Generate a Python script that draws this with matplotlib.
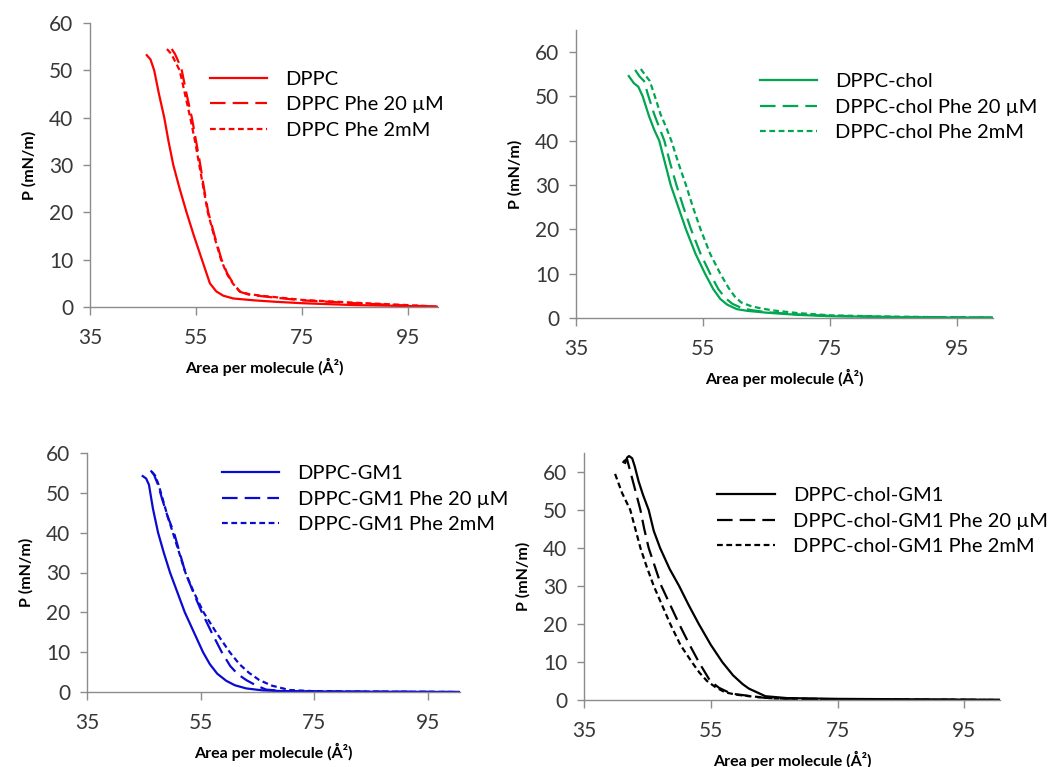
import matplotlib
matplotlib.use("Agg")
from matplotlib import pyplot as plt

plt.rcParams['font.family'] = ['Lato', 'DejaVu Sans']

# --- data (area in A^2, pressure in mN/m) ---

# DPPC
dppc_x = [45.7, 46.4, 47.1, 48.0, 49.0, 49.8, 50.7, 51.9, 53.2, 54.6, 56.1, 57.6, 58.8, 60.1, 62, 66, 70, 75, 85, 95, 100.5]
dppc_y = [53.2, 52.3, 50.0, 45.0, 40.0, 35.0, 30.0, 25.0, 20.0, 15.0, 10.0, 5.0, 3.3, 2.4, 1.8, 1.4, 1.1, 0.8, 0.4, 0.2, 0.05]
dppc_20_x = [50.4, 51.0, 51.6, 52.3, 53.2, 54.2, 55.0, 55.8, 56.5, 57.3, 58.5, 59.8, 60.9, 62.0, 63.3, 65, 68, 75, 85, 95, 100.5]
dppc_20_y = [54.5, 53.5, 52.0, 50.0, 45.0, 40.0, 35.0, 30.0, 25.0, 20.0, 15.0, 10.0, 7.0, 5.0, 3.2, 2.6, 2.2, 1.4, 0.8, 0.3, 0.1]
dppc_2m_x = [49.5, 50.3, 51.0, 51.9, 52.9, 53.9, 54.8, 55.6, 56.4, 57.2, 58.4, 59.7, 60.8, 61.9, 63.2, 65, 68, 75, 85, 95, 100.5]
dppc_2m_y = [54.5, 53.5, 52.0, 50.0, 45.0, 40.0, 35.0, 30.0, 25.0, 20.0, 15.0, 10.0, 7.0, 5.0, 3.3, 2.7, 2.3, 1.5, 0.9, 0.4, 0.1]

# DPPC-chol
chol_x = [43.3, 44.1, 44.8, 45.5, 46.5, 47.3, 48.1, 49.0, 49.9, 51.1, 52.3, 53.8, 55.3, 56.6, 57.7, 58.8, 60.3, 62, 65, 70, 75, 85, 95, 100.5]
chol_y = [54.6, 53.0, 52.2, 50.0, 45.5, 42.5, 40.0, 35.0, 30.0, 25.0, 20.0, 14.5, 10.0, 6.5, 4.3, 3.0, 2.0, 1.6, 1.2, 0.7, 0.4, 0.2, 0.1, 0.1]
chol_20_x = [44.3, 45.0, 45.7, 46.3, 47.3, 48.1, 48.9, 49.8, 50.8, 51.9, 53.1, 54.6, 56.1, 57.4, 58.5, 59.6, 61.0, 62.5, 65, 70, 75, 85, 95, 100.5]
chol_20_y = [56.0, 54.5, 53.5, 50.5, 46.0, 43.0, 40.0, 35.0, 30.0, 25.0, 20.0, 14.5, 10.0, 6.5, 4.5, 3.2, 2.3, 1.8, 1.3, 0.8, 0.5, 0.25, 0.15, 0.1]
chol_2m_x = [45.2, 45.9, 46.6, 47.3, 48.3, 49.2, 50.0, 51.1, 52.3, 53.4, 54.6, 56.1, 57.7, 59.0, 60.0, 61.0, 62.5, 64, 66, 70, 75, 85, 95, 100.5]
chol_2m_y = [56.2, 54.8, 53.5, 50.5, 46.0, 43.0, 40.0, 35.0, 30.0, 25.0, 20.0, 14.5, 10.0, 6.8, 4.8, 3.5, 2.7, 2.2, 1.7, 1.1, 0.6, 0.3, 0.15, 0.1]

# DPPC-GM1
gm1_x = [44.8, 45.4, 45.9, 46.6, 47.5, 48.5, 49.6, 50.9, 52.2, 53.8, 55.4, 56.6, 57.9, 59.5, 61.0, 63.0, 65.9, 70, 80, 90, 100.5]
gm1_y = [54.2, 53.6, 52.0, 46.0, 40.0, 35.0, 30.0, 25.0, 20.0, 15.0, 10.0, 7.0, 4.6, 2.8, 1.7, 0.9, 0.4, 0.2, 0.1, 0.05, 0.0]
gm1_20_x = [46.2, 46.8, 47.5, 48.2, 49.2, 50.3, 51.3, 52.3, 53.7, 55.2, 56.9, 58.7, 60.2, 61.5, 63.0, 64.8, 66.5, 70, 80, 90, 100.5]
gm1_20_y = [55.6, 54.5, 52.0, 48.5, 44.0, 40.0, 35.0, 30.0, 25.0, 20.0, 15.0, 10.0, 6.5, 4.5, 3.0, 1.6, 0.6, 0.2, 0.1, 0.05, 0.0]
gm1_2m_x = [46.4, 47.0, 47.6, 48.3, 49.2, 50.1, 51.2, 52.3, 53.8, 55.5, 57.7, 60.1, 61.8, 63.5, 65.3, 67.5, 70.6, 75, 85, 95, 100.5]
gm1_2m_y = [55.3, 54.3, 52.0, 48.5, 44.0, 40.0, 35.0, 30.0, 25.0, 20.0, 15.0, 10.0, 7.0, 4.8, 3.0, 1.6, 0.5, 0.2, 0.1, 0.05, 0.0]

# DPPC-chol-GM1
cg_x = [41.5, 41.8, 42.1, 42.6, 43.0, 43.6, 44.3, 45.2, 46.0, 47.0, 48.5, 50.0, 51.5, 53.1, 55.0, 56.8, 58.5, 60.0, 61.0, 63.6, 67, 75, 85, 95, 100.5]
cg_y = [62.4, 63.8, 64.2, 63.6, 61.5, 57.6, 54.0, 50.0, 44.5, 40.0, 34.5, 30.0, 25.0, 20.0, 14.5, 10.0, 6.5, 4.2, 3.0, 1.0, 0.5, 0.3, 0.2, 0.1, 0.05]
cg_20_x = [41.1, 41.4, 41.8, 42.8, 43.9, 44.5, 45.2, 46.2, 47.2, 48.6, 50.0, 51.5, 53.1, 54.9, 56.3, 57.8, 59.0, 60.5, 62, 65, 75, 85, 95, 100.5]
cg_20_y = [62.4, 63.0, 63.3, 57.0, 50.0, 45.0, 40.0, 35.0, 30.0, 25.0, 20.0, 15.0, 10.0, 5.0, 3.2, 2.0, 1.5, 1.2, 0.8, 0.4, 0.2, 0.1, 0.05, 0.0]
cg_2m_x = [39.9, 41.0, 42.3, 43.1, 43.9, 44.9, 46.0, 47.3, 48.6, 50.2, 52.0, 53.2, 54.4, 55.8, 57.3, 59.0, 61.0, 62.5, 65, 75, 85, 95, 100.5]
cg_2m_y = [59.5, 54.5, 50.0, 45.0, 40.0, 35.0, 30.0, 25.0, 20.0, 14.5, 10.0, 7.2, 5.0, 3.3, 2.0, 1.4, 1.0, 0.8, 0.4, 0.2, 0.1, 0.05, 0.0]

x_ticks = [35, 55, 75, 95]
y_ticks = [0, 10, 20, 30, 40, 50, 60]

# line styles like excel: solid, long dash, square dot
long_dash = (0, (7.0, 3.2))
square_dot = (0, (2.6, 1.6))


def draw_panel(ax, series, color, names, ymax, leg_pos):
    for (x, y), ls, name in zip(series, ['-', long_dash, square_dot], names):
        ax.plot(x, y, color=color, lw=1.6, linestyle=ls, label=name)

    ax.set_xlim(35, 100.6)
    ax.set_ylim(0, ymax)
    ax.set_xticks(x_ticks)
    ax.set_yticks(y_ticks)

    for side in ['top', 'right']:
        ax.spines[side].set_visible(False)
    for side in ['left', 'bottom']:
        ax.spines[side].set_color('#8c8c8c')
        ax.spines[side].set_linewidth(1.0)

    ax.tick_params(axis='x', direction='out', length=6, width=1.0, color='#8c8c8c',
                   pad=9, labelsize=15, labelcolor='#383838')
    ax.tick_params(axis='y', direction='out', length=5, width=1.0, color='#8c8c8c',
                   pad=7, labelsize=15, labelcolor='#383838')

    ax.set_xlabel('Area per molecule (Å²)', fontsize=11.5, fontweight='bold', labelpad=7)
    ax.set_ylabel('P (mN/m)', fontsize=11.5, fontweight='bold', labelpad=9)

    ax.legend(loc='upper left', bbox_to_anchor=leg_pos, frameon=False, fontsize=14.5,
              handlelength=2.85, handletextpad=0.9, labelspacing=0.42,
              borderpad=0, borderaxespad=0)


fig = plt.figure(figsize=(10.52, 7.67), dpi=100)

# axes boxes measured in pixels on the reference: left, top, right, bottom
boxes = [(90, 23, 438, 307), (576, 30, 993, 318), (87, 453, 460, 692), (584, 453, 1000, 700)]
axes = []
for l, t, r, b in boxes:
    axes.append(fig.add_axes([l / 1052, 1 - b / 767, (r - l) / 1052, (b - t) / 767]))

draw_panel(axes[0], [(dppc_x, dppc_y), (dppc_20_x, dppc_20_y), (dppc_2m_x, dppc_2m_y)], '#ff0000',
           ['DPPC', 'DPPC Phe 20 µM', 'DPPC Phe 2mM'], 60, (0.345, 0.832))
draw_panel(axes[1], [(chol_x, chol_y), (chol_20_x, chol_20_y), (chol_2m_x, chol_2m_y)], '#00a650',
           ['DPPC-chol', 'DPPC-chol Phe 20 µM', 'DPPC-chol Phe 2mM'], 65, (0.441, 0.85))
draw_panel(axes[2], [(gm1_x, gm1_y), (gm1_20_x, gm1_20_y), (gm1_2m_x, gm1_2m_y)], '#0a0ad2',
           ['DPPC-GM1', 'DPPC-GM1 Phe 20 µM', 'DPPC-GM1 Phe 2mM'], 60, (0.362, 0.95))
draw_panel(axes[3], [(cg_x, cg_y), (cg_20_x, cg_20_y), (cg_2m_x, cg_2m_y)], '#000000',
           ['DPPC-chol-GM1', 'DPPC-chol-GM1 Phe 20 µM', 'DPPC-chol-GM1 Phe 2mM'], 65, (0.32, 0.862))

fig.savefig('out.png', dpi=100)
plt.close(fig)
